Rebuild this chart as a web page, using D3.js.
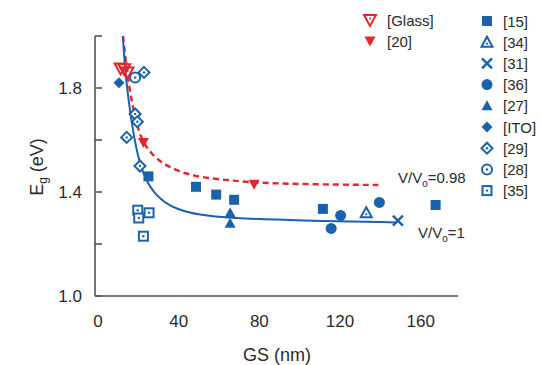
<!DOCTYPE html>
<html>
<head>
<meta charset="utf-8">
<script src="https://cdn.jsdelivr.net/npm/d3@7"></script>
<style>
  body { margin: 0; background: #fff; }
  text { font-family: "Liberation Sans", Arial, sans-serif; fill: #2a2a2a; }
</style>
</head>
<body>
<svg id="chart" width="542" height="365"></svg>
<script>
// data
const s15 = [[25, 1.46], [48.6, 1.42], [58.6, 1.39], [67.5, 1.37], [111.5, 1.335], [167.4, 1.35]];
const s34 = [[133, 1.32]];
const s31 = [[148.7, 1.29]];
const s36 = [[115.6, 1.26], [120.3, 1.31], [139.5, 1.36]];
const s27 = [[65.5, 1.32], [65.5, 1.28]];
const sITO = [[10.4, 1.82]];
const s29 = [[22.8, 1.86], [18.4, 1.70], [19.5, 1.67], [14.2, 1.61], [20.8, 1.50]];
const s28 = [[18.4, 1.84]];
const s35 = [[19.7, 1.33], [20.2, 1.30], [25.3, 1.32], [22.5, 1.23]];
const s20 = [[22.5, 1.59], [77.4, 1.43]];
const sGlass = [[11.2, 1.875], [13, 1.872], [14.6, 1.86]];

// guide curves (traced)
const curveV1 = [[12.3, 2.0], [13.4, 1.87], [15, 1.76], [17.2, 1.64], [20, 1.525], [24.2, 1.433],
  [30.8, 1.37], [39, 1.333], [50, 1.312], [65, 1.30], [100, 1.29], [148, 1.283]];
const curveV098 = [[12.4, 2.0], [14.2, 1.87], [17, 1.73], [20.8, 1.61], [25.8, 1.55], [34, 1.497],
  [47.3, 1.459], [63.9, 1.446], [77, 1.436], [100, 1.43], [139, 1.427]];

const xTicks = [0, 40, 80, 120, 160];
const yTicks = [1.0, 1.2, 1.4, 1.6, 1.8, 2.0];
const yLabels = [1.0, 1.4, 1.8];

const blue = "#1b62ad", red = "#e3262d";

const svg = d3.select("#chart");
const x = d3.scaleLinear().domain([-1.5, 178.5]).range([95, 458]);
const y = d3.scaleLinear().domain([1.0, 2.0]).range([296, 36]);

// axes
const ax = svg.append("g").attr("stroke", "#555").attr("stroke-width", 1.6);
ax.append("line").attr("x1", 95).attr("x2", 95).attr("y1", y(2.0)).attr("y2", 296);
ax.append("line").attr("x1", 95).attr("x2", 458).attr("y1", 296).attr("y2", 296);
ax.selectAll(".yt").data(yTicks).enter().append("line")
  .attr("x1", 95).attr("x2", 102).attr("y1", d => y(d)).attr("y2", d => y(d));

svg.selectAll(".yl").data(yLabels).enter().append("text")
  .attr("x", 82).attr("y", d => y(d) + 6).attr("text-anchor", "end")
  .attr("font-size", 17).text(d => d.toFixed(1));
svg.selectAll(".xl").data(xTicks).enter().append("text")
  .attr("x", d => x(d)).attr("y", 327).attr("text-anchor", "middle")
  .attr("font-size", 17).text(d => d);

svg.append("text").attr("x", 277).attr("y", 361).attr("text-anchor", "middle")
  .attr("font-size", 18).text("GS (nm)");
const yl = svg.append("text").attr("transform", "translate(43,167) rotate(-90)")
  .attr("text-anchor", "middle").attr("font-size", 18);
yl.append("tspan").text("E");
yl.append("tspan").attr("font-size", 12).attr("dy", 4).text("g");
yl.append("tspan").attr("dy", -4).text(" (eV)");

// curves
const lineX = d3.line().x(d => x(d[0])).y(d => y(d[1])).curve(d3.curveBasis);
svg.append("path").datum(curveV098).attr("d", lineX).attr("fill", "none")
  .attr("stroke", red).attr("stroke-width", 2.4).attr("stroke-dasharray", "6,4");
svg.append("path").datum(curveV1).attr("d", lineX).attr("fill", "none")
  .attr("stroke", blue).attr("stroke-width", 2);

// marker drawing
function marker(g, type, color) {
  const dot = () => g.append("circle").attr("r", 1.2).attr("fill", color);
  switch (type) {
    case "square":
      g.append("rect").attr("x", -5).attr("y", -5).attr("width", 10).attr("height", 10).attr("fill", color); break;
    case "osquare":
      g.append("rect").attr("x", -4.5).attr("y", -4.5).attr("width", 9).attr("height", 9)
        .attr("fill", "#fff").attr("stroke", color).attr("stroke-width", 2); dot(); break;
    case "otri":
      g.append("path").attr("d", "M0,-5.5L5.5,4.5L-5.5,4.5Z").attr("fill", "#fff")
        .attr("stroke", color).attr("stroke-width", 2); g.append("circle").attr("cy", 1.5).attr("r", 1.1).attr("fill", color); break;
    case "tri":
      g.append("path").attr("d", "M0,-5.5L5.5,4.5L-5.5,4.5Z").attr("fill", color); break;
    case "x":
      g.append("path").attr("d", "M-5,-5L5,5M5,-5L-5,5").attr("stroke", color).attr("stroke-width", 2.4); break;
    case "circle":
      g.append("circle").attr("r", 5.5).attr("fill", color); break;
    case "ocircle":
      g.append("circle").attr("r", 5).attr("fill", "#fff").attr("stroke", color).attr("stroke-width", 2); dot(); break;
    case "diamond":
      g.append("path").attr("d", "M0,-5.5L5.5,0L0,5.5L-5.5,0Z").attr("fill", color); break;
    case "odiamond":
      g.append("path").attr("d", "M0,-5.5L5.5,0L0,5.5L-5.5,0Z").attr("fill", "#fff")
        .attr("stroke", color).attr("stroke-width", 2); dot(); break;
    case "tridown":
      g.append("path").attr("d", "M-5.5,-4.5L5.5,-4.5L0,5.5Z").attr("fill", color); break;
    case "otridown":
      g.append("path").attr("d", "M-6,-5L6,-5L0,6Z").attr("fill", "none")
        .attr("stroke", color).attr("stroke-width", 2); g.append("circle").attr("cy", -1.5).attr("r", 1.1).attr("fill", color); break;
  }
}

const series = [
  { data: s35, type: "osquare", color: blue },
  { data: s29, type: "odiamond", color: blue },
  { data: s28, type: "ocircle", color: blue },
  { data: sITO, type: "diamond", color: blue },
  { data: s15, type: "square", color: blue },
  { data: s34, type: "otri", color: blue },
  { data: s31, type: "x", color: blue },
  { data: s36, type: "circle", color: blue },
  { data: s27, type: "tri", color: blue },
  { data: s20, type: "tridown", color: red },
  { data: sGlass, type: "otridown", color: red }
];
series.forEach(s => {
  s.data.forEach(d => {
    marker(svg.append("g").attr("transform", `translate(${x(d[0])},${y(d[1])})`), s.type, s.color);
  });
});

// legends
const legRight = [["[15]", "square"], ["[34]", "otri"], ["[31]", "x"], ["[36]", "circle"], ["[27]", "tri"],
  ["[ITO]", "diamond"], ["[29]", "odiamond"], ["[28]", "ocircle"], ["[35]", "osquare"]];
legRight.forEach((l, i) => {
  const yy = 21 + i * 21.2;
  marker(svg.append("g").attr("transform", `translate(487,${yy})`), l[1], blue);
  svg.append("text").attr("x", 503).attr("y", yy + 5.5).attr("font-size", 15).text(l[0]);
});
const legRed = [["[Glass]", "otridown"], ["[20]", "tridown"]];
legRed.forEach((l, i) => {
  const yy = 20 + i * 21;
  marker(svg.append("g").attr("transform", `translate(370,${yy})`), l[1], red);
  svg.append("text").attr("x", 387).attr("y", yy + 5.5).attr("font-size", 15).text(l[0]);
});

// curve labels
const t1 = svg.append("text").attr("x", 398).attr("y", 183).attr("font-size", 15);
t1.append("tspan").text("V/V");
t1.append("tspan").attr("font-size", 10).attr("dy", 4).text("o");
t1.append("tspan").attr("dy", -4).text("=0.98");
const t2 = svg.append("text").attr("x", 418).attr("y", 238).attr("font-size", 15);
t2.append("tspan").text("V/V");
t2.append("tspan").attr("font-size", 10).attr("dy", 4).text("o");
t2.append("tspan").attr("dy", -4).text("=1");
</script>
</body>
</html>
